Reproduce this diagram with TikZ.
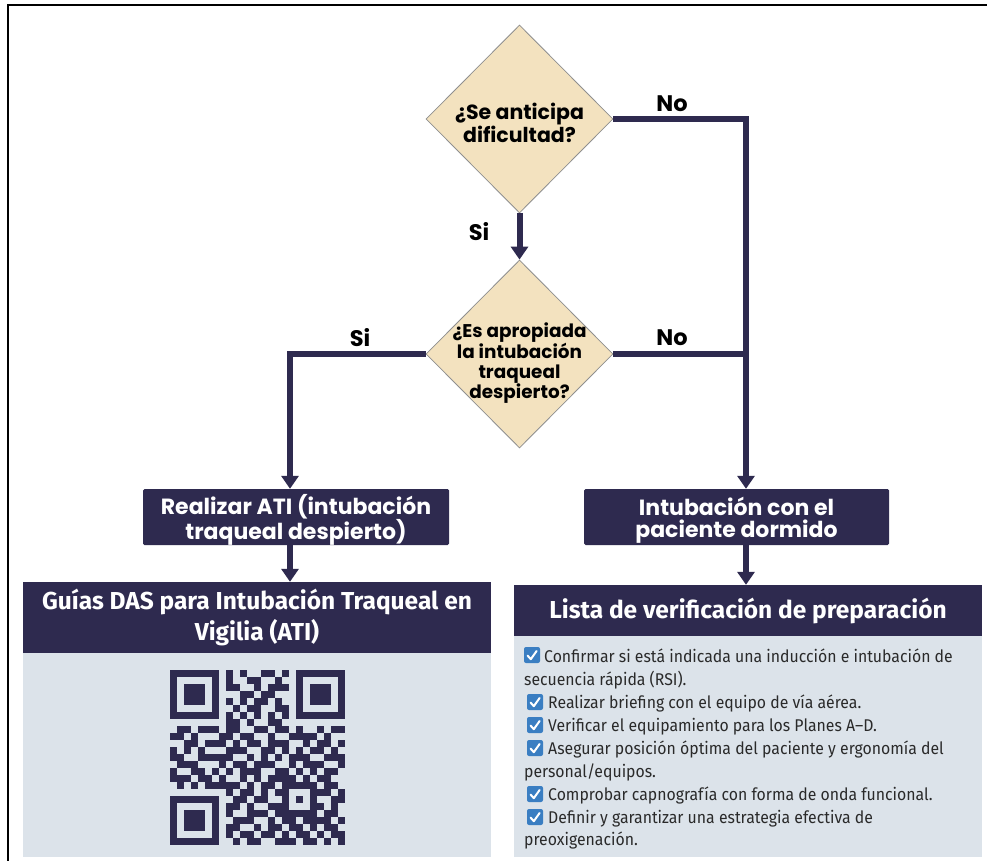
\documentclass[tikz,border=0pt]{standalone}
\usepackage{fontspec}
\setmainfont{Fira Sans}
\newfontfamily\pop{Poppins}
\newfontfamily\hdfont{Fira Sans}
\newfontfamily\chkfont{Fira Sans}[FakeStretch=0.93]
\usetikzlibrary{shapes.geometric,arrows.meta}
\definecolor{navy}{HTML}{2E2A4F}
\definecolor{tan}{HTML}{F3E2BF}
\definecolor{diagray}{HTML}{8F8F8F}
\definecolor{panelbg}{HTML}{DCE3EA}
\definecolor{chkblue}{HTML}{3A7EC2}
\definecolor{textgray}{HTML}{2A2A2A}
\newcount\qrcol
\def\qrrow#1#2{\qrcol=0 \def\qrr{#1}\qrscan#2\relax}
\def\qrscan#1{\ifx#1\relax\else\ifnum#1=1 \fill[navy] (\the\qrcol*7+170,\qrr*7+670) rectangle ++(7.1,7.1);\fi\advance\qrcol by 1 \expandafter\qrscan\fi}
\begin{document}
\begin{tikzpicture}[x=1pt,y=-1pt,
  conn/.style={navy, line width=6pt},
  arr/.style={conn, -{Triangle[width=17pt,length=13pt]}},
  dia/.style={diamond, draw=diagray, fill=tan, line width=0.8pt, minimum width=187pt, minimum height=188pt, inner sep=0pt},
  diatext/.style={align=center, inner sep=0pt, font=\pop\bfseries\fontsize{20.5}{21}\selectfont, text=black},
  lab/.style={inner sep=0pt, font=\pop\bfseries\fontsize{22.5}{24}\selectfont, text=black},
  box/.style={fill=navy, rounded corners=1.5pt, inner sep=0pt},
  boxtext/.style={text=white, inner sep=0pt, align=center, font=\pop\bfseries\fontsize{22}{21.5}\selectfont},
  head/.style={fill=navy, text=white, inner sep=0pt, align=center, minimum width=468pt},
  body/.style={fill=panelbg, inner sep=0pt, minimum width=468pt},
  ctext/.style={anchor=base west, inner sep=0pt, font=\chkfont\fontsize{17}{19}\selectfont, text=textgray},
  chkbox/.pic={\fill[chkblue, rounded corners=2pt] (0,0) rectangle (16,16);
    \draw[white, line width=2pt, line cap=round, line join=round] (3.5,8.5) -- (6.8,12.2) -- (12.6,4);}
]
\useasboundingbox (0,0) rectangle (987,861);
\fill[white] (0,0) rectangle (987,861);
% frame (top and left edges)
\draw[black, line width=2pt] (8.3,861) -- (8.3,5) -- (987,5);

% decisions
\node[dia] (d1) at (519.5,119) {};
\node[diatext] (d1t) at (519.5,123) {¿Se anticipa\\dificultad?};
\node[dia] (d2) at (519.5,354) {};
\node[diatext, font=\pop\bfseries\fontsize{18.4}{20}\selectfont] (d2t) at (519.5,363) {¿Es apropiada\\la intubación\\traqueal\\despierto?};

% action boxes
\node[box, minimum width=306pt, minimum height=56pt] (lbox) at (296,517) {};
\node[boxtext] (lboxt) at (296,520) {Realizar ATI (intubación\\traqueal despierto)};
\node[box, minimum width=305pt, minimum height=56pt] (rbox) at (736.5,517) {};
\node[boxtext] (rboxt) at (736.5,520) {Intubación con el\\paciente dormido};

% panels
\node[head, minimum height=71pt, font=\hdfont\bfseries\fontsize{24.5}{31}\selectfont] (lhead) at (257,617.5) {Guías DAS para Intubación Traqueal en\\Vigilia (ATI)};
\node[body, minimum height=204pt] (lbody) at (257,755) {};
\node[head, minimum height=51pt, font=\hdfont\bfseries\fontsize{24.5}{26}\selectfont] (rhead) at (748,610.5) {Lista de verificación de preparación};
\node[body, minimum height=221pt] (rbody) at (748,746.5) {};

% connector guide coordinates
\coordinate (lx) at (290,0);
\coordinate (rx) at (746,0);

% connectors
\draw[arr] (d1.south) -- (d2.north);
\draw[arr, line join=miter] (d1.east) -| (rbox.north -| rx);
\draw[conn] (d2.east) -- (d2.east -| rx);
\draw[arr, line join=miter] (d2.west) -| (lbox.north -| lx);
\draw[arr] (lbox.south -| lx) -- (lhead.north -| lx);
\draw[arr] (rbox.south -| rx) -- (rhead.north -| rx);

% labels
\node[lab] (no1) at (672,104) {No};
\node[lab] (si1) at (479,232) {Si};
\node[lab] (si2) at (360,338) {Si};
\node[lab] (no2) at (672,338) {No};

% QR code
\qrrow{0}{1111111010100110101111111}
\qrrow{1}{1000001010011001001000001}
\qrrow{2}{1011101011001011101011101}
\qrrow{3}{1011101000110110001011101}
\qrrow{4}{1011101010101101001011101}
\qrrow{5}{1000001001011001101000001}
\qrrow{6}{1111111010101010101111111}
\qrrow{7}{0000000011010011000000000}
\qrrow{8}{0110111011001101101001011}
\qrrow{9}{1101000110110010011110100}
\qrrow{10}{0011011101011011100101101}
\qrrow{11}{1010100011100110101011010}
\qrrow{12}{1100111110010101011100111}
\qrrow{13}{0111000101101110010111001}
\qrrow{14}{1001101010111001101010110}
\qrrow{15}{1110110100101011110101100}
\qrrow{16}{0101011111010110111110110}
\qrrow{17}{0000000010110101100011101}
\qrrow{18}{1111111001101100101010011}
\qrrow{19}{1000001011010011100011010}
\qrrow{20}{1011101010011101111110110}
\qrrow{21}{1011101001110010110111101}
\qrrow{22}{1011101011001011011010110}
\qrrow{23}{1000001010110110101101011}
\qrrow{24}{1111111001011001110110101}

% checklist
\pic at (524,647) {chkbox};
\node[ctext] (c1a) at (544,662) {Confirmar si está indicada una inducción e intubación de};
\node[ctext] (c1b) at (524,685) {secuencia rápida (RSI).};
\pic at (527,694) {chkbox};
\node[ctext] (c2) at (548,708) {Realizar briefing con el equipo de vía aérea.};
\pic at (527,717) {chkbox};
\node[ctext] (c3) at (548,731) {Verificar el equipamiento para los Planes A–D.};
\pic at (527,740) {chkbox};
\node[ctext] (c4a) at (548,754) {Asegurar posición óptima del paciente y ergonomía del};
\node[ctext] (c4b) at (524,777) {personal/equipos.};
\pic at (527,786) {chkbox};
\node[ctext] (c5) at (548,800) {Comprobar capnografía con forma de onda funcional.};
\pic at (527,809) {chkbox};
\node[ctext] (c6a) at (548,823) {Definir y garantizar una estrategia efectiva de};
\node[ctext] (c6b) at (524,845) {preoxigenación.};
\end{tikzpicture}
\end{document}
